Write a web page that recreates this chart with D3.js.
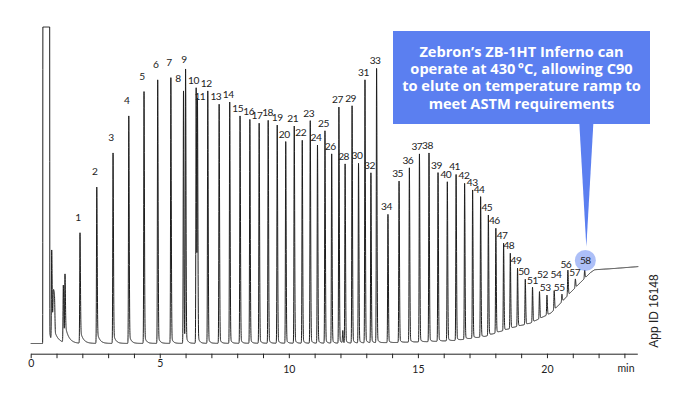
<!DOCTYPE html>
<html><head><meta charset="utf-8">
<script src="https://cdn.jsdelivr.net/npm/d3@7"></script>
<style>
html,body{margin:0;padding:0;background:#fff;}
svg{display:block;font-family:Lato,"Open Sans",sans-serif;}
</style></head>
<body><svg id="chart" width="677" height="394"></svg>
<script>
// ---------------- DATA ----------------
const peakNames = d3.range(1, 59).map(String);
const peakTimes = [1.91, 2.56, 3.19, 3.80, 4.39, 4.92, 5.43, 5.92, 6.00, 6.41,
  6.46, 6.86, 7.30, 7.71, 8.11, 8.49, 8.85, 9.20, 9.55, 9.88,
  10.21, 10.52, 10.83, 11.11, 11.40, 11.66, 11.94, 12.18, 12.45, 12.70,
  12.95, 13.18, 13.40, 13.84, 14.27, 14.67, 15.06, 15.43, 15.78, 16.14,
  16.48, 16.81, 17.12, 17.43, 17.73, 18.02, 18.32, 18.58, 18.86, 19.16,
  19.44, 19.71, 20.00, 20.28, 20.58, 20.81, 21.10, 21.46];
const peakHeights = [34.9, 49.4, 60.2, 71.9, 79.6, 83.3, 84.0, 79.8, 86.1, 80.8,
  76.0, 79.8, 75.6, 76.3, 71.9, 70.8, 69.6, 70.5, 69.0, 63.8,
  68.7, 64.2, 70.4, 62.7, 67.2, 59.9, 74.7, 56.7, 75.1, 56.9,
  83.3, 53.9, 86.9, 40.8, 51.3, 55.5, 59.9, 60.2, 54.0, 51.1,
  53.4, 50.6, 48.5, 46.4, 40.6, 36.4, 31.7, 28.5, 23.8, 20.3,
  17.8, 16.4, 15.3, 16.7, 15.6, 23.2, 20.4, 23.2];
// unlabelled early peaks / shoulder and small spike
const minorTimes = [0.814, 0.90, 1.264, 1.329, 12.09];
const minorHeights = [28.6, 12.0, 18.0, 19.5, 4.0];
// solvent front (off scale)
const solventStart = 0.477, solventEnd = 0.728;
// rising baseline (column bleed during the ramp)
const baselineTimes = [0, 12, 14, 15.5, 16.5, 17.6, 18.2, 18.8, 19.35, 19.75, 20.15, 20.5, 20.9, 21.3, 21.7, 21.85, 22.6, 23.54];
const baselineValues = [0, 0.1, 0.3, 0.6, 1.0, 2.2, 3.8, 5.3, 6.4, 8.0, 9.6, 12.5, 16.0, 19.3, 22.5, 23.3, 23.7, 24.3];
const majorTicks = [0, 5, 10, 15, 20];
const axisUnit = "min";
const calloutLines = ["Zebron\u2019s ZB-1HT Inferno can", "operate at 430\u2009\u00B0C, allowing C90", "to elute on temperature ramp to", "meet ASTM requirements"];
const highlightPeak = "58";
const appId = "App ID 16148";

// ---------------- LAYOUT ----------------
const svg = d3.select("#chart");
const x = d3.scaleLinear().domain([0, 23.5]).range([30.7, 637.3]);
const y = d3.scaleLinear().domain([0, 100]).range([343.5, 27]);
const runEnd = 23.54;
const baseline = d3.scaleLinear().domain(baselineTimes).range(baselineValues).clamp(true);

function peakShape(t, t0, h) {
  const dt = t - t0;
  if (dt < -0.08 || dt > 1.2) return 0;
  const sr = 0.011, sf = 0.016;
  const a = 0.025 + 0.1 * Math.exp(-(t0 - 1.9) / 1.2);
  const tau = 0.055 + 0.06 * Math.exp(-(t0 - 1.9) / 2);
  if (dt < 0) return h * Math.exp(-0.5 * (dt / sr) ** 2);
  return h * ((1 - a) * Math.exp(-0.5 * (dt / sf) ** 2) + a * Math.exp(-dt / tau));
}
const allPeaks = peakTimes.map((t, i) => ({t, h: peakHeights[i] - baseline(t)}))
  .concat(minorTimes.map((t, i) => ({t, h: minorHeights[i] - baseline(t), minor: true})));

function signal(t) {
  let s = baseline(t);
  // solvent
  if (t < solventStart) s += 400 * Math.exp(-0.5 * ((t - solventStart) / 0.004) ** 2);
  else if (t <= solventEnd) s += 400;
  else s += 400 * Math.exp(-0.5 * ((t - solventEnd) / 0.005) ** 2) + 4 * Math.exp(-(t - solventEnd) / 0.06);
  for (const p of allPeaks) {
    if (p.minor && p.t > 0.85 && p.t < 0.95) {
      const dt = t - p.t;
      s += p.h * Math.exp(-0.5 * (dt / 0.035) ** 4);
    } else s += peakShape(t, p.t, p.h);
  }
  return Math.min(s, 100);
}
const ts = d3.range(0, runEnd, 0.002).concat(peakTimes, minorTimes, [solventStart, solventEnd, runEnd]).sort(d3.ascending);
const trace = ts.map(t => [t, signal(t)]);

svg.append("path")
  .attr("d", d3.line().x(d => x(d[0])).y(d => y(d[1]))(trace))
  .attr("fill", "none").attr("stroke", "#1e1e1e").attr("stroke-width", 1)
  .attr("stroke-linejoin", "round");

// axis
const axis = d3.axisBottom(x).tickValues(d3.range(0, 24)).tickSize(4.5).tickSizeOuter(0)
  .tickFormat(d => majorTicks.includes(d) ? String(d) : "");
const gx = svg.append("g").attr("transform", "translate(0,353.7)").call(axis);
gx.select(".domain").attr("stroke", "#222");
gx.selectAll(".tick line").attr("stroke", "#222");
gx.selectAll(".tick text").attr("fill", "#222").attr("font-size", 10.5)
  .attr("font-family", "Lato, sans-serif").attr("dy", null)
  .attr("y", d => d < 10 ? 13.6 : 19);
svg.append("text").attr("x", 626).attr("y", 372).attr("text-anchor", "middle")
  .attr("font-size", 10.5).attr("fill", "#222").text(axisUnit);

// peak labels
const labelNudge = {
  1: [-2, 12], 2: [-2, 12], 3: [-2, 12], 4: [-2, 12], 5: [-2, 12], 6: [-2, 12], 7: [-2, 12],
  8: [-5.5, 9.3], 9: [-1.5, 8.3], 10: [-2.7, 3.4], 11: [2.4, 3], 13: [-3.3, 4],
  15: [-2.3, 4], 16: [-1.2, 4], 17: [-2.2, 4], 18: [-0.6, 4], 19: [0, 4],
  37: [-2.6, 4], 42: [-0.6, 4], 43: [-0.4, 4],
  51: [0, 3.3], 52: [3, 13.4], 53: [-1.7, 4], 54: [1.7, 12.4],
  55: [-2.7, 3.3], 56: [-2, 2.3], 57: [-0.7, 3], 58: [0.7, 6]
};
const labels = peakNames.map((n, i) => {
  const [dx, gap] = labelNudge[n] || [-1.5, 4];
  return {n, lx: x(peakTimes[i]) + dx, ly: y(peakHeights[i]) - gap};
});

// callout
const hl = labels.find(d => d.n === highlightPeak);
svg.append("circle").attr("cx", hl.lx).attr("cy", hl.ly - 3.6).attr("r", 10.5)
  .attr("fill", "#5b7ff0").attr("fill-opacity", 0.5);
svg.append("path")
  .attr("d", `M${hl.lx - 6},123.5 L${hl.lx + 8},123.5 L${hl.lx + 1},${hl.ly - 17} Z`)
  .attr("fill", "#5b7ff0");
svg.append("rect").attr("x", 393).attr("y", 31).attr("width", 257).attr("height", 93)
  .attr("fill", "#5b7ff0");
svg.append("text").attr("text-anchor", "middle").attr("fill", "#fff")
  .attr("font-family", "'Open Sans', Lato, sans-serif")
  .attr("font-weight", 700).attr("font-size", 14.6)
  .selectAll("tspan").data(calloutLines).join("tspan")
  .attr("x", 521.5).attr("y", (d, i) => 56.7 + i * 17.3).text(d => d);

svg.append("g").selectAll("text").data(labels).join("text")
  .attr("x", d => d.lx).attr("y", d => d.ly).attr("text-anchor", "middle")
  .attr("font-size", 10.2).attr("letter-spacing", -0.5).attr("fill", "#222")
  .text(d => d.n);

svg.append("text").attr("transform", "translate(657.8,311) rotate(-90)")
  .attr("text-anchor", "middle").attr("font-family", "Liberation Sans, Arial, sans-serif")
  .attr("font-size", 12).attr("fill", "#222").text(appId);
</script>
</body></html>
